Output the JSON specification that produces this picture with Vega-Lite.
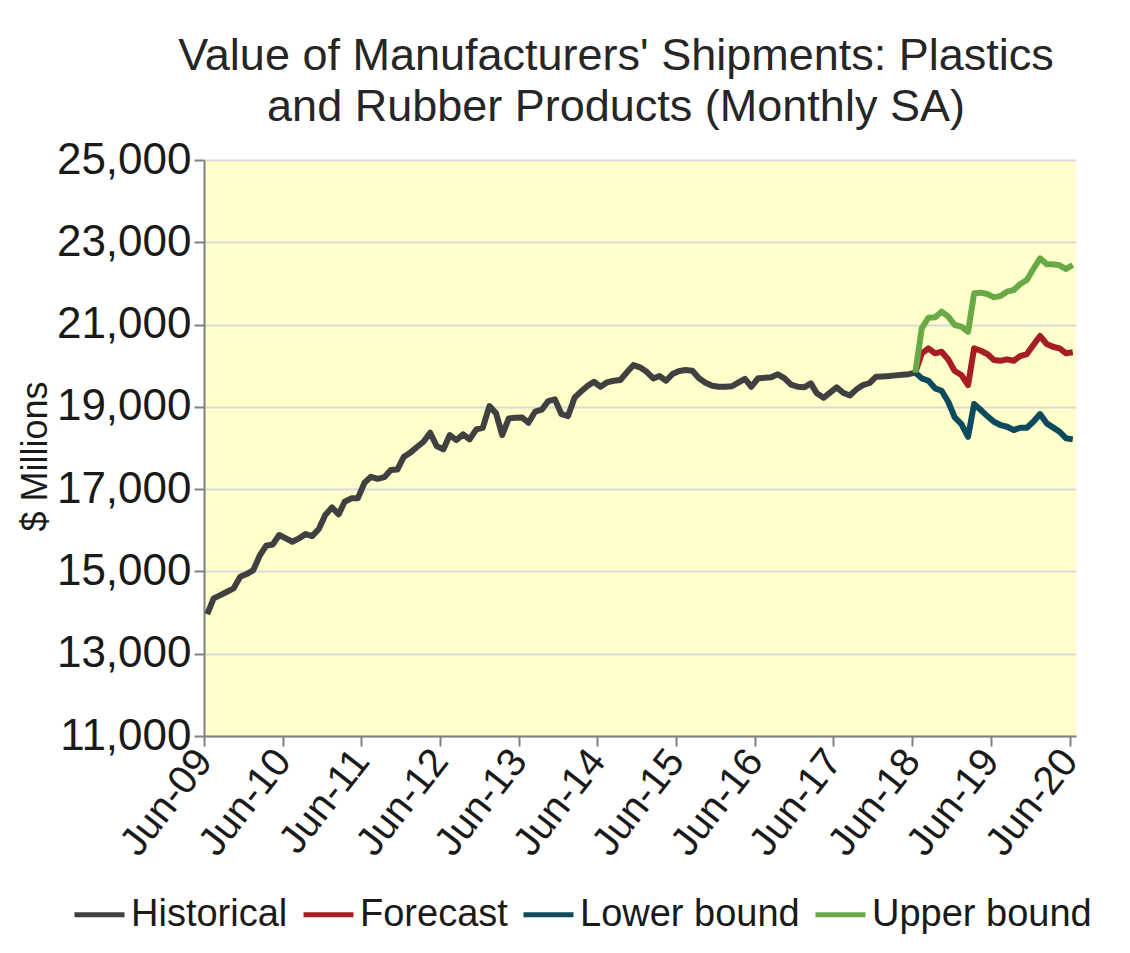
{
  "$schema": "https://vega.github.io/schema/vega-lite/v6.json",
  "width": 872,
  "height": 576,
  "autosize": {"type": "none"},
  "padding": {"left": 204, "top": 160, "right": 54, "bottom": 217},
  "background": "white",
  "config": {
    "font": "Liberation Sans",
    "view": {"fill": "#FFFFCC", "stroke": null},
    "axis": {"labelColor": "#1a1a1a", "titleColor": "#1a1a1a", "labelFont": "Liberation Sans", "titleFont": "Liberation Sans"},
    "legend": {"labelFont": "Liberation Sans", "labelColor": "#1a1a1a"}
  },
  "title": {
    "text": ["Value of Manufacturers' Shipments: Plastics", "and Rubber Products (Monthly SA)"],
    "font": "Liberation Sans",
    "fontSize": 45,
    "fontWeight": "normal",
    "color": "#262626",
    "lineHeight": 51,
    "anchor": "middle",
    "dx": -24,
    "offset": 8
  },
  "datasets": {
    "shipments": [
      {"d": "2009-06-01", "s": "Historical", "v": 13960},
      {"d": "2009-07-01", "s": "Historical", "v": 14344},
      {"d": "2009-08-01", "s": "Historical", "v": 14425},
      {"d": "2009-09-01", "s": "Historical", "v": 14506},
      {"d": "2009-10-01", "s": "Historical", "v": 14588},
      {"d": "2009-11-01", "s": "Historical", "v": 14870},
      {"d": "2009-12-01", "s": "Historical", "v": 14936},
      {"d": "2010-01-01", "s": "Historical", "v": 15033},
      {"d": "2010-02-01", "s": "Historical", "v": 15397},
      {"d": "2010-03-01", "s": "Historical", "v": 15624},
      {"d": "2010-04-01", "s": "Historical", "v": 15656},
      {"d": "2010-05-01", "s": "Historical", "v": 15884},
      {"d": "2010-06-01", "s": "Historical", "v": 15803},
      {"d": "2010-07-01", "s": "Historical", "v": 15722},
      {"d": "2010-08-01", "s": "Historical", "v": 15803},
      {"d": "2010-09-01", "s": "Historical", "v": 15908},
      {"d": "2010-10-01", "s": "Historical", "v": 15859},
      {"d": "2010-11-01", "s": "Historical", "v": 16030},
      {"d": "2010-12-01", "s": "Historical", "v": 16370},
      {"d": "2011-01-01", "s": "Historical", "v": 16557},
      {"d": "2011-02-01", "s": "Historical", "v": 16387},
      {"d": "2011-03-01", "s": "Historical", "v": 16694},
      {"d": "2011-04-01", "s": "Historical", "v": 16776},
      {"d": "2011-05-01", "s": "Historical", "v": 16776},
      {"d": "2011-06-01", "s": "Historical", "v": 17155},
      {"d": "2011-07-01", "s": "Historical", "v": 17300},
      {"d": "2011-08-01", "s": "Historical", "v": 17250},
      {"d": "2011-09-01", "s": "Historical", "v": 17290},
      {"d": "2011-10-01", "s": "Historical", "v": 17464},
      {"d": "2011-11-01", "s": "Historical", "v": 17480},
      {"d": "2011-12-01", "s": "Historical", "v": 17788},
      {"d": "2012-01-01", "s": "Historical", "v": 17893},
      {"d": "2012-02-01", "s": "Historical", "v": 18030},
      {"d": "2012-03-01", "s": "Historical", "v": 18152},
      {"d": "2012-04-01", "s": "Historical", "v": 18371},
      {"d": "2012-05-01", "s": "Historical", "v": 18047},
      {"d": "2012-06-01", "s": "Historical", "v": 17966},
      {"d": "2012-07-01", "s": "Historical", "v": 18315},
      {"d": "2012-08-01", "s": "Historical", "v": 18193},
      {"d": "2012-09-01", "s": "Historical", "v": 18331},
      {"d": "2012-10-01", "s": "Historical", "v": 18210},
      {"d": "2012-11-01", "s": "Historical", "v": 18453},
      {"d": "2012-12-01", "s": "Historical", "v": 18492},
      {"d": "2013-01-01", "s": "Historical", "v": 19020},
      {"d": "2013-02-01", "s": "Historical", "v": 18842},
      {"d": "2013-03-01", "s": "Historical", "v": 18315},
      {"d": "2013-04-01", "s": "Historical", "v": 18720},
      {"d": "2013-05-01", "s": "Historical", "v": 18736},
      {"d": "2013-06-01", "s": "Historical", "v": 18744},
      {"d": "2013-07-01", "s": "Historical", "v": 18614},
      {"d": "2013-08-01", "s": "Historical", "v": 18882},
      {"d": "2013-09-01", "s": "Historical", "v": 18930},
      {"d": "2013-10-01", "s": "Historical", "v": 19140},
      {"d": "2013-11-01", "s": "Historical", "v": 19182},
      {"d": "2013-12-01", "s": "Historical", "v": 18825},
      {"d": "2014-01-01", "s": "Historical", "v": 18776},
      {"d": "2014-02-01", "s": "Historical", "v": 19231},
      {"d": "2014-03-01", "s": "Historical", "v": 19367},
      {"d": "2014-04-01", "s": "Historical", "v": 19506},
      {"d": "2014-05-01", "s": "Historical", "v": 19610},
      {"d": "2014-06-01", "s": "Historical", "v": 19489},
      {"d": "2014-07-01", "s": "Historical", "v": 19596},
      {"d": "2014-08-01", "s": "Historical", "v": 19635},
      {"d": "2014-09-01", "s": "Historical", "v": 19652},
      {"d": "2014-10-01", "s": "Historical", "v": 19839},
      {"d": "2014-11-01", "s": "Historical", "v": 20016},
      {"d": "2014-12-01", "s": "Historical", "v": 19960},
      {"d": "2015-01-01", "s": "Historical", "v": 19853},
      {"d": "2015-02-01", "s": "Historical", "v": 19693},
      {"d": "2015-03-01", "s": "Historical", "v": 19749},
      {"d": "2015-04-01", "s": "Historical", "v": 19635},
      {"d": "2015-05-01", "s": "Historical", "v": 19798},
      {"d": "2015-06-01", "s": "Historical", "v": 19871},
      {"d": "2015-07-01", "s": "Historical", "v": 19895},
      {"d": "2015-08-01", "s": "Historical", "v": 19879},
      {"d": "2015-09-01", "s": "Historical", "v": 19693},
      {"d": "2015-10-01", "s": "Historical", "v": 19587},
      {"d": "2015-11-01", "s": "Historical", "v": 19514},
      {"d": "2015-12-01", "s": "Historical", "v": 19489},
      {"d": "2016-01-01", "s": "Historical", "v": 19489},
      {"d": "2016-02-01", "s": "Historical", "v": 19500},
      {"d": "2016-03-01", "s": "Historical", "v": 19590},
      {"d": "2016-04-01", "s": "Historical", "v": 19680},
      {"d": "2016-05-01", "s": "Historical", "v": 19489},
      {"d": "2016-06-01", "s": "Historical", "v": 19693},
      {"d": "2016-07-01", "s": "Historical", "v": 19705},
      {"d": "2016-08-01", "s": "Historical", "v": 19717},
      {"d": "2016-09-01", "s": "Historical", "v": 19790},
      {"d": "2016-10-01", "s": "Historical", "v": 19700},
      {"d": "2016-11-01", "s": "Historical", "v": 19540},
      {"d": "2016-12-01", "s": "Historical", "v": 19490},
      {"d": "2017-01-01", "s": "Historical", "v": 19474},
      {"d": "2017-02-01", "s": "Historical", "v": 19571},
      {"d": "2017-03-01", "s": "Historical", "v": 19328},
      {"d": "2017-04-01", "s": "Historical", "v": 19220},
      {"d": "2017-05-01", "s": "Historical", "v": 19344},
      {"d": "2017-06-01", "s": "Historical", "v": 19474},
      {"d": "2017-07-01", "s": "Historical", "v": 19344},
      {"d": "2017-08-01", "s": "Historical", "v": 19275},
      {"d": "2017-09-01", "s": "Historical", "v": 19425},
      {"d": "2017-10-01", "s": "Historical", "v": 19530},
      {"d": "2017-11-01", "s": "Historical", "v": 19580},
      {"d": "2017-12-01", "s": "Historical", "v": 19733},
      {"d": "2018-01-01", "s": "Historical", "v": 19740},
      {"d": "2018-02-01", "s": "Historical", "v": 19749},
      {"d": "2018-03-01", "s": "Historical", "v": 19765},
      {"d": "2018-04-01", "s": "Historical", "v": 19780},
      {"d": "2018-05-01", "s": "Historical", "v": 19795},
      {"d": "2018-06-01", "s": "Historical", "v": 19832},
      {"d": "2018-06-01", "s": "Forecast", "v": 19832},
      {"d": "2018-07-01", "s": "Forecast", "v": 20300},
      {"d": "2018-08-01", "s": "Forecast", "v": 20423},
      {"d": "2018-09-01", "s": "Forecast", "v": 20301},
      {"d": "2018-10-01", "s": "Forecast", "v": 20340},
      {"d": "2018-11-01", "s": "Forecast", "v": 20150},
      {"d": "2018-12-01", "s": "Forecast", "v": 19871},
      {"d": "2019-01-01", "s": "Forecast", "v": 19774},
      {"d": "2019-02-01", "s": "Forecast", "v": 19530},
      {"d": "2019-03-01", "s": "Forecast", "v": 20423},
      {"d": "2019-04-01", "s": "Forecast", "v": 20364},
      {"d": "2019-05-01", "s": "Forecast", "v": 20284},
      {"d": "2019-06-01", "s": "Forecast", "v": 20138},
      {"d": "2019-07-01", "s": "Forecast", "v": 20122},
      {"d": "2019-08-01", "s": "Forecast", "v": 20155},
      {"d": "2019-09-01", "s": "Forecast", "v": 20122},
      {"d": "2019-10-01", "s": "Forecast", "v": 20235},
      {"d": "2019-11-01", "s": "Forecast", "v": 20284},
      {"d": "2019-12-01", "s": "Forecast", "v": 20503},
      {"d": "2020-01-01", "s": "Forecast", "v": 20722},
      {"d": "2020-02-01", "s": "Forecast", "v": 20527},
      {"d": "2020-03-01", "s": "Forecast", "v": 20461},
      {"d": "2020-04-01", "s": "Forecast", "v": 20423},
      {"d": "2020-05-01", "s": "Forecast", "v": 20301},
      {"d": "2020-06-01", "s": "Forecast", "v": 20326},
      {"d": "2018-06-01", "s": "Lower bound", "v": 19832},
      {"d": "2018-07-01", "s": "Lower bound", "v": 19693},
      {"d": "2018-08-01", "s": "Lower bound", "v": 19635},
      {"d": "2018-09-01", "s": "Lower bound", "v": 19450},
      {"d": "2018-10-01", "s": "Lower bound", "v": 19392},
      {"d": "2018-11-01", "s": "Lower bound", "v": 19124},
      {"d": "2018-12-01", "s": "Lower bound", "v": 18744},
      {"d": "2019-01-01", "s": "Lower bound", "v": 18582},
      {"d": "2019-02-01", "s": "Lower bound", "v": 18273},
      {"d": "2019-03-01", "s": "Lower bound", "v": 19068},
      {"d": "2019-04-01", "s": "Lower bound", "v": 18922},
      {"d": "2019-05-01", "s": "Lower bound", "v": 18776},
      {"d": "2019-06-01", "s": "Lower bound", "v": 18638},
      {"d": "2019-07-01", "s": "Lower bound", "v": 18558},
      {"d": "2019-08-01", "s": "Lower bound", "v": 18517},
      {"d": "2019-09-01", "s": "Lower bound", "v": 18436},
      {"d": "2019-10-01", "s": "Lower bound", "v": 18492},
      {"d": "2019-11-01", "s": "Lower bound", "v": 18492},
      {"d": "2019-12-01", "s": "Lower bound", "v": 18638},
      {"d": "2020-01-01", "s": "Lower bound", "v": 18825},
      {"d": "2020-02-01", "s": "Lower bound", "v": 18599},
      {"d": "2020-03-01", "s": "Lower bound", "v": 18501},
      {"d": "2020-04-01", "s": "Lower bound", "v": 18395},
      {"d": "2020-05-01", "s": "Lower bound", "v": 18235},
      {"d": "2020-06-01", "s": "Lower bound", "v": 18210},
      {"d": "2018-06-01", "s": "Upper bound", "v": 19832},
      {"d": "2018-07-01", "s": "Upper bound", "v": 20909},
      {"d": "2018-08-01", "s": "Upper bound", "v": 21167},
      {"d": "2018-09-01", "s": "Upper bound", "v": 21176},
      {"d": "2018-10-01", "s": "Upper bound", "v": 21313},
      {"d": "2018-11-01", "s": "Upper bound", "v": 21191},
      {"d": "2018-12-01", "s": "Upper bound", "v": 20989},
      {"d": "2019-01-01", "s": "Upper bound", "v": 20948},
      {"d": "2019-02-01", "s": "Upper bound", "v": 20826},
      {"d": "2019-03-01", "s": "Upper bound", "v": 21759},
      {"d": "2019-04-01", "s": "Upper bound", "v": 21775},
      {"d": "2019-05-01", "s": "Upper bound", "v": 21742},
      {"d": "2019-06-01", "s": "Upper bound", "v": 21662},
      {"d": "2019-07-01", "s": "Upper bound", "v": 21694},
      {"d": "2019-08-01", "s": "Upper bound", "v": 21799},
      {"d": "2019-09-01", "s": "Upper bound", "v": 21840},
      {"d": "2019-10-01", "s": "Upper bound", "v": 21986},
      {"d": "2019-11-01", "s": "Upper bound", "v": 22083},
      {"d": "2019-12-01", "s": "Upper bound", "v": 22350},
      {"d": "2020-01-01", "s": "Upper bound", "v": 22610},
      {"d": "2020-02-01", "s": "Upper bound", "v": 22465},
      {"d": "2020-03-01", "s": "Upper bound", "v": 22465},
      {"d": "2020-04-01", "s": "Upper bound", "v": 22440},
      {"d": "2020-05-01", "s": "Upper bound", "v": 22350},
      {"d": "2020-06-01", "s": "Upper bound", "v": 22448}
    ]
  },
  "data": {"name": "shipments"},
  "mark": {"type": "line", "strokeWidth": 6, "strokeJoin": "round", "strokeCap": "butt", "clip": true},
  "encoding": {
    "x": {
      "field": "d",
      "type": "temporal",
      "scale": {
        "type": "utc",
        "domain": [
          {"year": 2009, "month": 5, "date": 17, "utc": true},
          {"year": 2020, "month": 6, "date": 16, "utc": true}
        ]
      },
      "axis": {
        "title": null,
        "grid": false,
        "values": [
          {"year": 2009, "month": 5, "date": 17, "utc": true},
          {"year": 2010, "month": 5, "date": 17, "utc": true},
          {"year": 2011, "month": 5, "date": 17, "utc": true},
          {"year": 2012, "month": 5, "date": 17, "utc": true},
          {"year": 2013, "month": 5, "date": 17, "utc": true},
          {"year": 2014, "month": 5, "date": 17, "utc": true},
          {"year": 2015, "month": 5, "date": 17, "utc": true},
          {"year": 2016, "month": 5, "date": 17, "utc": true},
          {"year": 2017, "month": 5, "date": 17, "utc": true},
          {"year": 2018, "month": 5, "date": 17, "utc": true},
          {"year": 2019, "month": 5, "date": 17, "utc": true},
          {"year": 2020, "month": 5, "date": 17, "utc": true}
        ],
        "labelExpr": "'Jun-' + utcFormat(datum.value, '%y')",
        "labelAngle": -52,
        "labelAlign": "right",
        "labelBaseline": "middle",
        "labelFontSize": 40,
        "labelPadding": 8,
        "labelOverlap": false,
        "labelBound": false,
        "labelFlush": false,
        "tickSize": 10,
        "tickWidth": 2,
        "tickColor": "#808080",
        "domainColor": "#808080",
        "domainWidth": 2
      }
    },
    "y": {
      "field": "v",
      "type": "quantitative",
      "scale": {"domain": [11000, 25000], "nice": false, "zero": false},
      "axis": {
        "title": "$ Millions",
        "titleFontSize": 36,
        "titleFontWeight": "normal",
        "titleAngle": -90,
        "titleX": -158,
        "titleY": 296,
        "titleAlign": "center",
        "titleBaseline": "alphabetic",
        "values": [11000, 13000, 15000, 17000, 19000, 21000, 23000, 25000],
        "format": ",d",
        "labelFontSize": 44,
        "labelPadding": 3,
        "tickSize": 10,
        "tickWidth": 2,
        "tickColor": "#808080",
        "domainColor": "#808080",
        "domainWidth": 2,
        "grid": true,
        "gridColor": "#D9D9D9",
        "gridWidth": 2
      }
    },
    "color": {
      "field": "s",
      "type": "nominal",
      "sort": ["Historical", "Forecast", "Lower bound", "Upper bound"],
      "scale": {
        "domain": ["Historical", "Forecast", "Lower bound", "Upper bound"],
        "range": ["#404040", "#A81C24", "#0E4A5E", "#6AAA46"]
      },
      "legend": {
        "title": null,
        "orient": "none",
        "direction": "horizontal",
        "legendX": -132,
        "legendY": 727,
        "symbolType": "stroke",
        "symbolSize": 2500,
        "symbolStrokeWidth": 5,
        "labelFontSize": 38,
        "labelOffset": 4,
        "columnPadding": 5,
        "labelLimit": 400
      }
    }
  }
}
